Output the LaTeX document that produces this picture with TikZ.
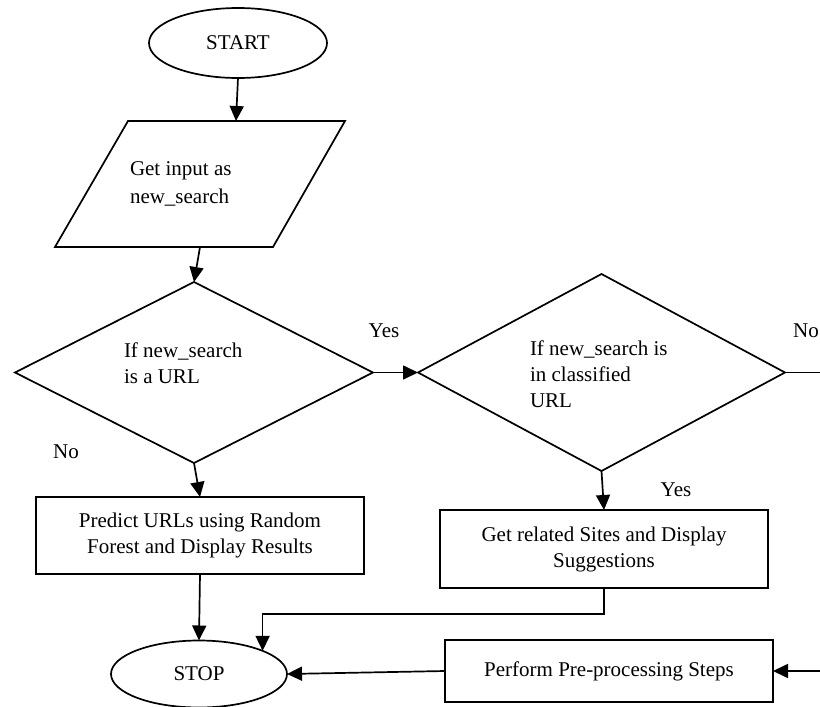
\documentclass[tikz,border=0pt]{standalone}
\usepackage{fontspec}
\setmainfont{Liberation Serif}
\usetikzlibrary{shapes.geometric,arrows.meta}
\begin{document}
\begin{tikzpicture}[x=1pt,y=-1pt,
  every node/.style={font=\fontsize{21}{26}\selectfont, inner sep=0pt, outer sep=0pt},
  shapeline/.style={draw=black, line width=1.7pt},
  termbox/.style={shapeline, ellipse},
  procbox/.style={shapeline, rectangle, align=center},
  decbox/.style={shapeline, diamond},
  txt/.style={align=left, anchor=north west},
  arr/.style={line width=1.7pt, -{Triangle[length=15pt,width=14pt]}},
  plain/.style={line width=1.7pt}]
\useasboundingbox (0,0) rectangle (820,707);

% terminals
\node[termbox, minimum width=178pt, minimum height=70pt] (start) at (238,43) {START};
\node[termbox, minimum width=176pt, minimum height=67pt] (stop) at (199,674) {STOP};

% input parallelogram
\draw[shapeline, line join=miter] (128,121) -- (345,121) -- (273,247) -- (55,247) -- cycle;
\coordinate (inTop) at (236,121);
\coordinate (inBot) at (200,247);
\node[txt] (intext) at (130,157) {\strut Get input as\\[2pt]new\_search};

% decisions
\node[decbox, minimum width=358pt, minimum height=181pt] (d1) at (194,372.5) {};
\node[txt] (d1text) at (124,339) {\strut If new\_search\\is a URL};
\node[decbox, minimum width=367pt, minimum height=197pt] (d2) at (601.5,372.5) {};
\node[txt] (d2text) at (530,337) {\strut If new\_search is\\in classified\\URL};

% process boxes
\node[procbox, minimum width=328pt, minimum height=77pt] (box1) at (200,535.5) {Predict URLs using Random\\Forest and Display Results};
\node[procbox, minimum width=328pt, minimum height=78pt] (box2) at (604,549) {Get related Sites and Display\\Suggestions};
\node[procbox, minimum width=328pt, minimum height=62pt] (box3) at (609,671) {Perform Pre-processing Steps};

% labels
\node (yes1) at (384,331) {Yes};
\node (no2) at (806,331) {No};
\node (no1) at (66,452) {No};
\node (yes2) at (676,490) {Yes};

% off-picture ends
\coordinate (rightA) at (820,372.5);
\coordinate (rightB) at (820,671);

% connectors
\draw[arr] (start.south) -- (inTop);
\draw[arr] (inBot) -- (d1.north);
\draw[arr] (d1.east) -- (d2.west);
\draw[plain] (d2.east) -- (rightA);
\draw[arr] (d1.south) -- (box1.north);
\draw[arr] (d2.south) -- (box2.north);
\draw[arr] (box1.south) -- (stop.north);
\draw[arr] (box2.south) -- ++(0,26) -| (stop.20);
\draw[arr] (box3.west) -- (stop.east);
\draw[arr] (rightB) -- (box3.east);
\end{tikzpicture}
\end{document}
